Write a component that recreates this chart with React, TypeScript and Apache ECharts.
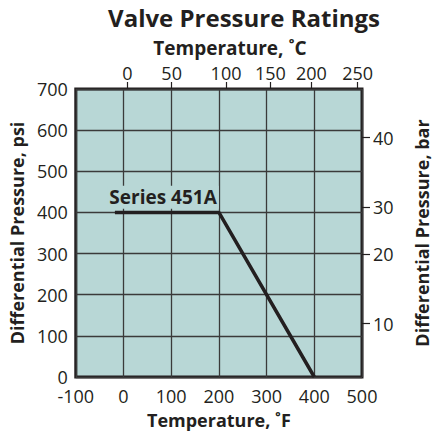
import React, { useEffect, useRef } from "react";
import * as echarts from "echarts";

const seriesName = "Series 451A";
const ratingTempF = [-18, 200, 400];
const ratingPsi = [400, 400, 0];

const fTicks = [-100, 0, 100, 200, 300, 400, 500];
const psiTicks = [0, 100, 200, 300, 400, 500, 600, 700];

// Celsius tick labels and where they sit on the °F scale in the reference
const cLabels = ["0", "50", "100", "150", "200", "250"];
const cTickPosF = [8, 101, 215, 308, 394, 491];

// bar tick labels and where they sit on the psi scale in the reference
const barLabels = ["10", "20", "30", "40"];
const barTickPosPsi = [130, 298, 412, 582];

const FONT = "Open Sans";
const DARK = "#231f20";
const PLOT_BG = "#b8d7d6";

// fine-grained slots for the secondary axes (1 °F and 1 psi per slot)
const fSlots: string[] = [];
for (let t = fTicks[0]; t <= fTicks[fTicks.length - 1]; t++) fSlots.push(String(t));
const psiSlots: string[] = [];
for (let p = psiTicks[0]; p <= psiTicks[psiTicks.length - 1]; p++) psiSlots.push(String(p));

export default function App() {
  const ref = useRef<HTMLDivElement>(null);
  useEffect(() => {
    if (!ref.current) return;
    const chart = echarts.init(ref.current, null, { renderer: "svg" });
    const data = ratingTempF.map((t, i) => [t, ratingPsi[i]]);
    const isCTick = (_i: number, v: string) => cTickPosF.indexOf(Number(v)) >= 0;
    const isBarTick = (_i: number, v: string) => barTickPosPsi.indexOf(Number(v)) >= 0;
    chart.setOption({
      animation: false,
      textStyle: { fontFamily: FONT },
      title: [
        {
          text: "Valve Pressure Ratings",
          left: 239,
          top: 0,
          textAlign: "center",
          textStyle: { fontFamily: FONT, fontWeight: "bold", fontSize: 24, color: DARK },
        },
        {
          text: "Temperature, ˚C",
          left: 225,
          top: 33,
          textAlign: "center",
          textStyle: { fontFamily: FONT, fontWeight: "bold", fontSize: 19, color: DARK },
        },
      ],
      grid: {
        left: 74,
        top: 89,
        right: 66,
        bottom: 55,
        show: true,
        backgroundColor: PLOT_BG,
        borderColor: DARK,
        borderWidth: 3,
      },
      xAxis: [
        {
          type: "value",
          min: fTicks[0],
          max: fTicks[fTicks.length - 1],
          interval: 100,
          position: "bottom",
          name: "Temperature, ˚F",
          nameLocation: "middle",
          nameGap: 34,
          nameTextStyle: { fontFamily: FONT, fontWeight: "bold", fontSize: 18, color: DARK },
          axisLine: { show: false },
          axisTick: { show: false },
          axisLabel: { fontFamily: FONT, fontSize: 18, lineHeight: 14, color: DARK, margin: 12 },
          splitLine: { show: true, lineStyle: { color: "#3a3a3a", width: 1.3 } },
        },
        {
          type: "category",
          data: fSlots,
          boundaryGap: false,
          position: "top",
          axisLine: { show: false },
          axisTick: {
            show: true,
            inside: false,
            length: 7,
            interval: isCTick,
            lineStyle: { color: DARK, width: 1.2 },
          },
          axisLabel: {
            fontFamily: FONT,
            fontSize: 18,
            color: DARK,
            margin: 7,
            interval: isCTick,
            formatter: (v: string) => {
              const i = cTickPosF.indexOf(Number(v));
              return i >= 0 ? cLabels[i] : "";
            },
          },
          splitLine: { show: false },
        },
      ],
      yAxis: [
        {
          type: "value",
          min: psiTicks[0],
          max: psiTicks[psiTicks.length - 1],
          interval: 100,
          position: "left",
          name: "Differential Pressure, psi",
          nameLocation: "middle",
          nameGap: 47,
          nameTextStyle: { fontFamily: FONT, fontWeight: "bold", fontSize: 18, color: DARK },
          axisLine: { show: false },
          axisTick: { show: false },
          axisLabel: { fontFamily: FONT, fontSize: 18, lineHeight: 14, color: DARK, margin: 8 },
          splitLine: { show: true, lineStyle: { color: "#3a3a3a", width: 1.3 } },
        },
        {
          type: "category",
          data: psiSlots,
          boundaryGap: false,
          position: "right",
          name: "Differential Pressure, bar",
          nameLocation: "middle",
          nameGap: 51,
          nameRotate: 90,
          nameTextStyle: { fontFamily: FONT, fontWeight: "bold", fontSize: 18, color: DARK },
          axisLine: { show: false },
          axisTick: {
            show: true,
            inside: false,
            length: 8,
            interval: isBarTick,
            lineStyle: { color: DARK, width: 1.2 },
          },
          axisLabel: {
            fontFamily: FONT,
            fontSize: 18,
            color: DARK,
            margin: 11,
            interval: isBarTick,
            formatter: (v: string) => {
              const i = barTickPosPsi.indexOf(Number(v));
              return i >= 0 ? barLabels[i] : "";
            },
          },
          splitLine: { show: false },
        },
      ],
      series: [
        {
          type: "line",
          name: seriesName,
          xAxisIndex: 0,
          yAxisIndex: 0,
          data,
          symbol: "none",
          lineStyle: { color: DARK, width: 3.5 },
          markPoint: {
            symbol: "rect",
            symbolSize: 0,
            silent: true,
            data: [
              {
                coord: [83, 437],
                label: {
                  show: true,
                  formatter: seriesName,
                  position: "inside",
                  fontFamily: FONT,
                  fontWeight: "bold",
                  fontSize: 19,
                  color: DARK,
                  backgroundColor: PLOT_BG,
                  padding: [2, 2, 2, 2],
                },
              },
            ],
          },
        },
      ],
    });
    return () => chart.dispose();
  }, []);
  return (
    <div
      ref={ref}
      style={{ position: "absolute", left: 0, top: 0, width: 439, height: 434 }}
    />
  );
}
